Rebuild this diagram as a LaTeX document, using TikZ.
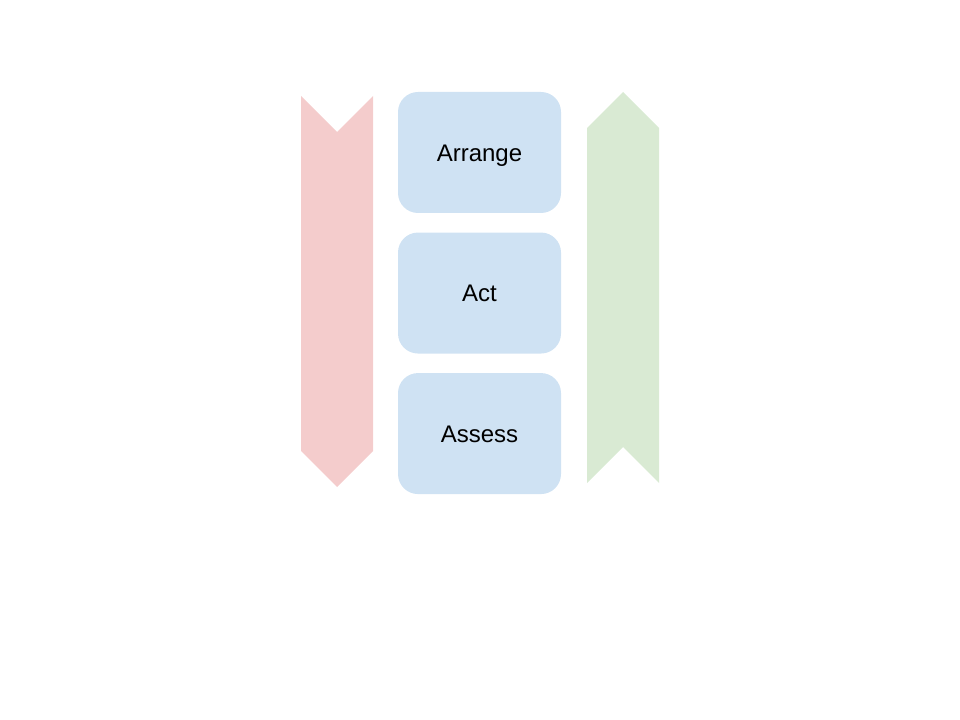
\documentclass[tikz,border=0pt]{standalone}
\usepackage{fontspec}
\setmainfont{Liberation Sans}
\usetikzlibrary{positioning}

\definecolor{stepblue}{HTML}{CFE2F3}
\definecolor{downred}{HTML}{F4CCCC}
\definecolor{upgreen}{HTML}{D9EAD3}

\tikzset{
  stage/.style={fill=stepblue,rounded corners=15pt,minimum width=122.25pt,
    minimum height=90.75pt,inner sep=0pt,text height=12.9pt,text depth=0pt,
    font=\fontsize{18}{21}\selectfont},
}

\begin{document}
\begin{tikzpicture}[x=0.75pt,y=-0.75pt,node distance=14.25pt]
\useasboundingbox (0,0) rectangle (960,720);
% the three stages
\node[stage] (arrange) at (479.5,152.5) {Arrange};
\node[stage] (act) [below=of arrange] {Act};
\node[stage] (assess) [below=of act] {Assess};
% side arrows
\fill[downred] (301,96) -- (337,132) -- (373,96) -- (373,451) -- (337,487) -- (301,451) -- cycle;
\fill[upgreen] (587,128) -- (623,92) -- (659,128) -- (659,483) -- (623,447) -- (587,483) -- cycle;
\end{tikzpicture}
\end{document}
